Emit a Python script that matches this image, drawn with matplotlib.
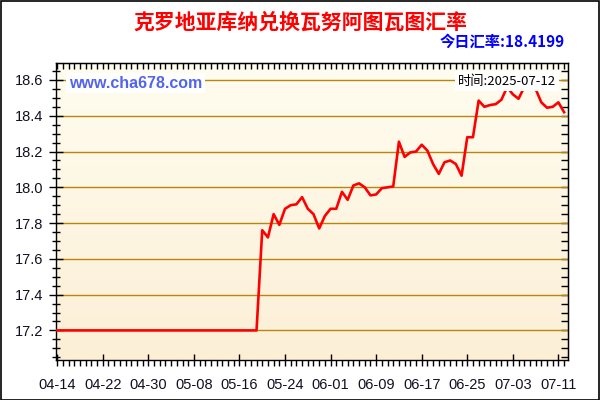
import matplotlib
matplotlib.use("Agg")
import matplotlib.pyplot as plt
import matplotlib.dates as mdates
from matplotlib.ticker import MultipleLocator, FixedLocator
import numpy as np
import pandas as pd

plt.rcParams['font.family'] = ['Liberation Sans', 'Noto Sans CJK SC', 'DejaVu Sans']

title = "克罗地亚库纳兑换瓦努阿图瓦图汇率"
today_label = "今日汇率:18.4199"
time_label = "时间:2025-07-12"
site_label = "www.cha678.com"

start_date = "2025-04-14"
end_date = "2025-07-12"

rates = [
    17.2, 17.2, 17.2, 17.2, 17.2, 17.2, 17.2, 17.2, 17.2, 17.2,
    17.2, 17.2, 17.2, 17.2, 17.2, 17.2, 17.2, 17.2, 17.2, 17.2,
    17.2, 17.2, 17.2, 17.2, 17.2, 17.2, 17.2, 17.2, 17.2, 17.2,
    17.2, 17.2, 17.2, 17.2, 17.2, 17.2,
    17.76, 17.72, 17.85, 17.79, 17.88, 17.90, 17.905, 17.945, 17.88, 17.85,
    17.77, 17.84, 17.88, 17.88, 17.975, 17.93, 18.01, 18.022, 18.0, 17.955,
    17.96, 17.995, 18.0, 18.005, 18.255, 18.17, 18.195, 18.2, 18.238, 18.205,
    18.13, 18.075, 18.14, 18.15, 18.13, 18.065, 18.28, 18.28, 18.485, 18.45,
    18.46, 18.465, 18.49, 18.56, 18.52, 18.495, 18.56, 18.60, 18.55, 18.475,
    18.445, 18.45, 18.475, 18.42,
]

tick_labels = ["04-14", "04-22", "04-30", "05-08", "05-16", "05-24",
               "06-01", "06-09", "06-17", "06-25", "07-03", "07-11"]
y_ticks = [17.2, 17.4, 17.6, 17.8, 18.0, 18.2, 18.4, 18.6]

dates = pd.date_range(start_date, end_date, freq="D")
x = mdates.date2num(dates)
tick_pos = mdates.date2num(pd.to_datetime(["2025-" + t for t in tick_labels]))

W, H = 600, 400
fig = plt.figure(figsize=(6, 4), dpi=100)
fig.patch.set_facecolor("white")

# outer border
fig.add_artist(plt.Rectangle((0.5 / W, 0.5 / H), 1 - 1.5 / W, 1 - 1.5 / H,
                             transform=fig.transFigure, fill=False,
                             edgecolor="black", linewidth=1.2))

L, R, T, B = 55.5, 567.5, 63, 360
ax = fig.add_axes([L / W, 1 - B / H, (R - L) / W, (B - T) / H])

x0, x1 = x[0] - 0.3, x[-1] + 0.6
y0, y1 = 17.0345, 18.695
ax.set_xlim(x0, x1)
ax.set_ylim(y0, y1)

# gradient background
grad = np.linspace(0, 1, 256).reshape(-1, 1)
top_c = np.array([255, 253, 240]) / 255
bot_c = np.array([252, 239, 214]) / 255
img = top_c * (1 - grad[..., None]) + bot_c * grad[..., None]
img = img.reshape(256, 1, 3)
ax.imshow(img, extent=[x0, x1, y0, y1], aspect="auto", origin="upper", zorder=0)

for yv in y_ticks:
    ax.axhline(yv, color="#b8860b", linewidth=1.0, zorder=1)

ax.plot(x, rates, color="#ff0000", linewidth=1.9, zorder=3, solid_joinstyle="round")

for s in ax.spines.values():
    s.set_color("black")
    s.set_linewidth(1.0)

ax.xaxis.set_major_locator(FixedLocator(tick_pos))
ax.set_xticklabels(tick_labels)
ax.xaxis.set_minor_locator(MultipleLocator(1))
ax.yaxis.set_major_locator(FixedLocator(y_ticks))
ax.set_yticklabels([f"{v:.1f}" for v in y_ticks])
ax.yaxis.set_minor_locator(MultipleLocator(0.05))

ax.tick_params(axis="x", which="major", direction="inout", length=8, width=1,
               labelsize=10.5, pad=9, colors="black")
ax.tick_params(axis="x", which="minor", direction="out", length=4, width=1)
ax.tick_params(axis="y", which="major", direction="inout", length=10, width=1,
               labelsize=10.5, pad=4, colors="black")
ax.tick_params(axis="y", which="minor", direction="inout", length=6, width=1)
for lab in ax.get_xticklabels() + ax.get_yticklabels():
    lab.set_color("#111122")

# top / right inner ticks
sec_x = ax.secondary_xaxis("top")
sec_x.xaxis.set_major_locator(FixedLocator(tick_pos))
sec_x.xaxis.set_minor_locator(MultipleLocator(1))
sec_x.tick_params(which="both", direction="in", length=4, width=1, labeltop=False)
sec_x.set_xticklabels([])
sec_y = ax.secondary_yaxis("right")
sec_y.yaxis.set_major_locator(FixedLocator(y_ticks))
sec_y.yaxis.set_minor_locator(MultipleLocator(0.05))
sec_y.tick_params(which="both", direction="in", length=5, width=1, labelright=False)
sec_y.set_yticklabels([])
ax.tick_params(top=False, right=False, which="both")

# texts
fig.text(300 / W, 1 - 22 / H, title, color="#ff0000", fontsize=15, fontweight="bold",
         ha="center", va="center", family=["Noto Sans CJK SC", "DejaVu Sans"])
fig.text(565 / W, 1 - 42 / H, today_label, color="#0000ff", fontsize=11,
         fontweight="bold", ha="right", va="center",
         family=["Noto Sans CJK SC", "DejaVu Sans"])
fig.text(69 / W, 1 - 83 / H, site_label, color="#5064f0", fontsize=11.5,
         fontweight="bold", ha="left", va="center", family=["Liberation Sans"],
         bbox=dict(facecolor="white", edgecolor="none", pad=1.8), zorder=5)
fig.text(556 / W, 1 - 81 / H, time_label, color="black", fontsize=9.5,
         ha="right", va="center", family=["Noto Sans CJK SC", "DejaVu Sans"],
         bbox=dict(facecolor="white", edgecolor="none", pad=2.2), zorder=5)

fig.savefig("out.png", dpi=100, facecolor="white")
